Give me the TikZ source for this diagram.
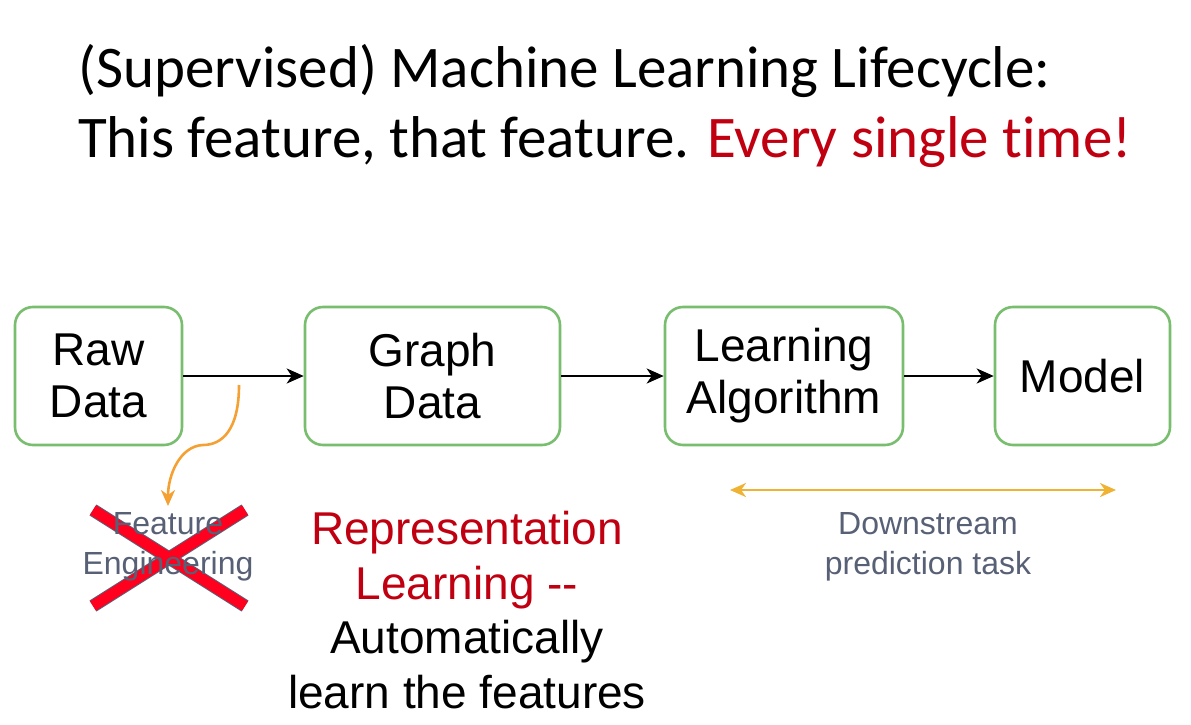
\documentclass[tikz,border=0pt]{standalone}
\usepackage{fontspec}
\setmainfont{Liberation Sans}
\newfontfamily\titlefont[RawFeature=-liga]{Carlito}
\usetikzlibrary{arrows.meta}
\definecolor{boxgreen}{RGB}{120,190,110}
\definecolor{darkred}{RGB}{192,0,16}
\definecolor{slate}{RGB}{88,96,118}
\definecolor{curveorange}{RGB}{245,160,50}
\definecolor{arrowgold}{RGB}{240,178,50}
\definecolor{xred}{RGB}{255,0,30}
\tikzset{
  stagebox/.style={draw=boxgreen, line width=2.6pt, rounded corners=18pt, align=center,
    font=\fontsize{46}{52}\selectfont, inner sep=0pt},
  flow/.style={line width=2.6pt, -{Stealth[length=17pt,width=15pt,inset=5pt]}},
  graytext/.style={text=slate, align=center, font=\fontsize{32}{40}\selectfont},
}
\begin{document}
\begin{tikzpicture}[x=1pt,y=-1pt]
\useasboundingbox (0,0) rectangle (1191,725);
% title
\node[anchor=base west, inner sep=0pt, font=\titlefont\fontsize{59}{70}\selectfont] (t1) at (78,88) {(Supervised) Machine Learning Lifecycle:};
\node[anchor=base west, inner sep=0pt, font=\titlefont\fontsize{59}{70}\selectfont] (t2) at (78,157) {This feature, that feature. \textcolor{darkred}{Every single time!}};
% boxes
\node[stagebox, minimum width=167pt, minimum height=138pt] (raw) at (98.5,376) {Raw\\Data};
\node[stagebox, minimum width=255pt, minimum height=138pt] (graph) at (432.5,376) {Graph\\Data};
\node[stagebox, minimum width=238pt, minimum height=138pt] (learn) at (784,376) {Learning\\Algorithm};
\node[stagebox, minimum width=175pt, minimum height=138pt] (model) at (1082.5,376) {Model};
\draw[flow] (raw) -- (graph);
\draw[flow] (graph) -- (learn);
\draw[flow] (learn) -- (model);
% feature engineering
\coordinate (cstart) at (239,385);
\coordinate (cmid) at (203,445);
\coordinate (cend) at (168,506);
\draw[curveorange, line width=2.6pt, -{Stealth[length=16pt,width=14pt,inset=5pt]}]
  (cstart) .. controls (239,430) and (222,445) .. (cmid) .. controls (180,446) and (168,475) .. (cend);
\coordinate (x1) at (93,510);
\coordinate (x2) at (245,606);
\coordinate (x3) at (245,510);
\coordinate (x4) at (93,606);
\draw[slate, line width=13pt] (x1) -- (x2) (x3) -- (x4);
\draw[xred, line width=11pt] (x1) -- (x2) (x3) -- (x4);
\node[graytext] (fe) at (168,547) {Feature\\Engineering};
% downstream
\coordinate (dl) at (730,490);
\coordinate (dr) at (1116,490);
\draw[arrowgold, line width=2.6pt, {Stealth[length=16pt,width=14pt,inset=5pt]}-{Stealth[length=16pt,width=14pt,inset=5pt]}] (dl) -- (dr);
\node[graytext] (ds) at (928,547) {Downstream\\prediction task};
% representation learning
\node[align=center, font=\fontsize{46}{54.5}\selectfont, anchor=base] (rl) at (467,708)
  {\textcolor{darkred}{Representation}\\\textcolor{darkred}{Learning {-}{-}}\\Automatically\\learn the features};
\end{tikzpicture}
\end{document}
